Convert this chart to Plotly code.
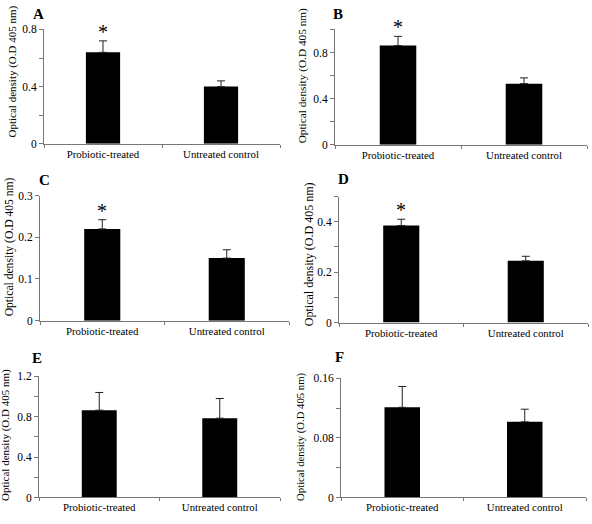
import plotly.graph_objects as go

categories = ["Probiotic-treated", "Untreated control"]
panel_letters = ["A", "B", "C", "D", "E", "F"]
A_vals = [0.64, 0.40]
A_err = [0.08, 0.04]
B_vals = [0.86, 0.53]
B_err = [0.08, 0.05]
C_vals = [0.22, 0.15]
C_err = [0.022, 0.02]
D_vals = [0.385, 0.245]
D_err = [0.025, 0.018]
E_vals = [0.865, 0.785]
E_err = [0.175, 0.195]
F_vals = [0.121, 0.1015]
F_err = [0.028, 0.017]
y_ranges = [[0, 0.8], [0, 1.0], [0, 0.3], [0, 0.5], [0, 1.2], [0, 0.16]]
y_dticks = [0.4, 0.4, 0.1, 0.2, 0.4, 0.08]
y_minor = [0.2, 0.2, 0.1, 0.1, 0.2, 0.04]
significant = [True, True, True, True, False, False]
y_title = "Optical density (O.D 405 nm)"

vals = [A_vals, B_vals, C_vals, D_vals, E_vals, F_vals]
errs = [A_err, B_err, C_err, D_err, E_err, F_err]

W, H = 592, 524
# pixel layout: (x_left, x_right, y_zero, y_top)
boxes = [(44, 280, 141, 24), (335, 587, 142, 24),
         (40, 289, 322, 194), (339, 588, 324, 195),
         (39, 280, 503, 379), (341, 586, 503, 381)]
title_pos = [(12, 67), (302, 72), (9, 247), (309, 254), (6, 439), (301, 441)]
title_size = [11, 11.3, 11.6, 12, 11, 10.7]
letter_pos = [(39, 8), (338, 8), (44, 178), (343, 177), (37, 360), (339, 359)]

FONT = "Liberation Serif, Times New Roman, serif"
fig = go.Figure()
layout = dict(width=W, height=H, margin=dict(l=0, r=0, t=0, b=0),
              plot_bgcolor="white", paper_bgcolor="white", showlegend=False,
              font=dict(family=FONT, color="black", size=11))
annotations = []
for i in range(6):
    n = "" if i == 0 else str(i + 1)
    xl, xr, yz, yt = boxes[i]
    fig.add_trace(go.Bar(
        x=categories, y=vals[i], xaxis="x" + n, yaxis="y" + n,
        marker=dict(color="black", line=dict(width=0)), width=0.29,
        error_y=dict(type="data", array=errs[i], arrayminus=[0, 0], symmetric=False,
                     color="#222", thickness=1, width=4)))
    layout["xaxis" + n] = dict(domain=[xl / W, xr / W], anchor="y" + n,
                               range=[-0.5, 1.5], showline=True, linecolor="#777",
                               linewidth=1, ticks="outside", tickson="boundaries",
                               ticklen=3, tickcolor="#777", showgrid=False,
                               tickfont=dict(size=10.8), fixedrange=True)
    layout["yaxis" + n] = dict(domain=[1 - yz / H, 1 - yt / H], anchor="x" + n,
                               range=y_ranges[i], dtick=y_dticks[i], tick0=0,
                               showline=True, linecolor="#777", linewidth=1,
                               ticks="outside", ticklen=4, tickcolor="#777",
                               showgrid=False, zeroline=False,
                               tickfont=dict(size=11.5),
                               minor=dict(dtick=y_minor[i], tick0=0, ticks="outside",
                                          ticklen=4, tickcolor="#777", showgrid=False))
    tx, ty = title_pos[i]
    annotations.append(dict(text=y_title, textangle=-90, xref="paper", yref="paper",
                            x=tx / W, y=1 - ty / H,
                            showarrow=False, font=dict(size=title_size[i]),
                            xanchor="center", yanchor="middle"))
    lx, ly = letter_pos[i]
    annotations.append(dict(text="<b>" + panel_letters[i] + "</b>", xref="paper",
                            yref="paper", x=lx / W, y=1 - ly / H, showarrow=False,
                            font=dict(size=15), xanchor="center", yanchor="middle"))
    if significant[i]:
        annotations.append(dict(text="*", xref="x" + n, yref="y" + n,
                                x=categories[0], y=vals[i][0] + errs[i][0],
                                showarrow=False, yanchor="bottom", yshift=-4,
                                font=dict(size=20)))
layout["annotations"] = annotations
fig.update_layout(**layout)
fig.write_html("out.html", config={"displayModeBar": False},
               post_script="document.body.style.margin='0';document.body.style.overflow='hidden';")
